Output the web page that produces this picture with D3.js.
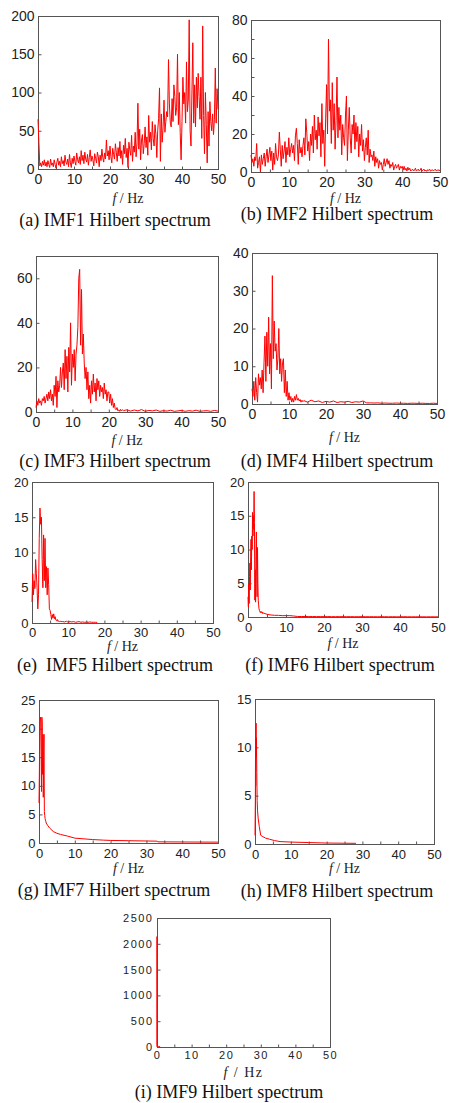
<!DOCTYPE html>
<html><head><meta charset="utf-8">
<script src="https://cdn.jsdelivr.net/npm/d3@7"></script>
<style>body{margin:0;background:#fff}svg{display:block}</style></head>
<body><svg id="chart" width="449" height="1103"></svg>
<script>
// ---------- tick labels / categories ----------
const xTickValues = [0, 5, 10, 15, 20, 25, 30, 35, 40, 45, 50];
const captionTexts = ["(a) IMF1 Hilbert spectrum", "(b) IMF2 Hilbert spectrum", "(c) IMF3 Hilbert spectrum",
  "(d) IMF4 Hilbert spectrum", "(e)  IMF5 Hilbert spectrum", "(f) IMF6 Hilbert spectrum",
  "(g) IMF7 Hilbert spectrum", "(h) IMF8 Hilbert spectrum", "(i) IMF9 Hilbert spectrum"];
const yMaxes = [200, 80, 70, 40, 20, 20, 25, 15, 2500];
const yTickLists = [[0,50,100,150,200],[0,10,20,30,40,50,60,70,80],[0,20,40,60],[0,10,20,30,40],
  [0,5,10,15,20],[0,5,10,15,20],[0,5,10,15,20,25],[0,5,10,15],[0,500,1000,1500,2000,2500]];
const yLabelSteps = [50, 20, 20, 10, 5, 5, 5, 5, 500];

// ---------- series values ----------
const imf1Amp = [
  65,35,4,8,3,10,5,12,4,9,3,11,6,2,13,5,
  8,3,12,6,1,9,14,5,10,3,16,7,11,4,18,9,
  6,13,3,19,8,2,14,7,17,10,5,21,12,8,16,6,
  24,11,18,7,22,13,9,19,5,15,25,10,17,12,4,20,
  14,8,22,16,3,18,11,26,15,9,21,13,38,17,24,12,
  30,16,8,27,19,13,33,22,10,28,17,36,14,24,6,31,
  20,40,15,27,2,35,25,18,44,10,30,22,48,16,34,86,
  26,52,12,38,45,20,33,55,28,42,18,70,35,48,25,62,
  40,30,58,45,15,50,66,106,10,72,35,55,90,48,62,75,
  68,143,85,60,55,92,62,110,95,70,80,150,58,100,48,12,
  62,120,85,100,60,140,75,90,195,50,30,98,165,60,110,55,
  120,80,125,95,65,120,40,187,70,20,100,58,8,75,30,88,
  62,50,72,45,65,132,60,105,78];
const imf2Amp = [
  9,5,7,3,8,6,15,2,5,8,0,9,4,7,10,3,
  8,12,5,9,13,6,11,1,10,4,15,8,6,9,21,12,
  3,14,7,11,16,5,13,9,18,8,12,15,10,14,6,19,
  23,15,4,17,10,13,8,14,18,9,28,21,11,16,6,20,
  14,24,10,30,17,22,12,29,19,26,8,36,15,22,3,28,
  46,20,70,32,38,15,47,22,36,12,27,50,18,34,22,30,
  9,25,18,14,30,40,6,22,34,18,10,25,20,30,12,26,
  16,24,8,20,14,25,11,17,6,13,18,9,22,5,12,8,
  9,6,11,3,8,5,7,2,6,4,5,1,4,7,3,5,
  7,4,6,2,4,3,5,1,3,4,2,3,4,1,3,2,
  3,1,3,1,2,0.5,2.5,1,2,0.5,1,1.5,0.5,1,2,0.5,
  1,1.5,0.5,1,2,0.5,1,1.5,0.5,1,0.3,1.2,0.8,1.5,0.4,1,
  1.2,0.5,1,1.5,0.6,1,0.8,1.2,0.5];
const imf3Amp = [
  2,5,3,6,4,5,3,6,5,7,4,6,8,5,9,6,
  10,5,8,3,12,7,16,2,14,9,12,20,11,18,22,10,
  28,15,25,9,29,18,40,12,26,20,28,14,26,30,38,60,
  64,30,55,26,35,22,15,20,10,18,6,12,4,14,8,17,
  9,13,5,15,10,14,7,12,9,11,6,13,8,10,5,9,
  9,4,8,3,6,2,4,1.5,1,2,0.5,1,0.3,1.2,0.5,1];
const imf3Tail = [0.6,1,0.4,0.9,0.5,1.1,0.3,0.7,0.5,0.9,0.3,0.6,0.4,0.8,0.3,0.5,0.7,0.3,0.6,0.4,0.8,0.3,0.5,0.6,0.3,0.7,0.4];
const imf4Amp = [
  4,2,6,1,7,3,0.5,8,5,7,4,9,3,11,18,6,
  19,10,23,8,16,4,34,12,22,14,16,9,12,20,8,12,
  6,11,12,3,9,2,6,1,3,1,2,0.5,1.5,0.5,2,1,
  2.5,1,1.5,0.8,1.2,0.5,1,0.6];
const imf4Tail = [0.9,0.5,1,0.6,0.8,0.4,0.7,0.5,0.8,0.4,0.6,0.5,0.7,0.4,0.6,0.5,0.8,0.3,
  0.3,0.25,0.3,0.2,0.25,0.2,0.2,0.25,0.2,0.2,0.15,0.2,0.2,0.15,0.2,0.15,0.15,0.2,0.15];
const imf5Amp = [3,7,4,6,5,9,7,5,2,4,12,16.3,14,15,9,5,12.5,6,12,5,8,4,7.8,5.5,2,1.8,1.2,0.5,1.2,0.7,
  1.3,0.6,0.9,0.4,0.3,0.5,0.2,0.3,0.2,0.25,0.2];
const imf5Tail = [0.2,0.15,0.25,0.1,0.2,0.15,0.2,0.1,0.15,0.2,0.1,0.15,0.1,0.12,0.1,0.15,0.1,0.1,0.1,0.08];
const imf6Amp = [3,1.5,5,2,6,8,4,9,11.5,7,12,10,15.5,12,15,13,18.6,14,2.5,7,2.2,9,12.6,6,3,10.3,5,2.5,
  1.8,1.2,1,0.8,0.7,0.8,0.6,0.7,0.8,0.6,0.7,0.5,0.6];
const imf6Tail = [0.4,0.3,0.25,0.25,0.2,0.2,0.2,0.15,
  0.08,0.07,0.08,0.06,0.07,0.06,0.06,0.05,0.06,0.05,0.05,0.05,0.05,0.04,0.05,0.04,0.04,0.05,0.04,0.04,
  0.04,0.03,0.04,0.04,0.03,0.04,0.03,0.03,0.04,0.03,0.03,0.03,0.03,0.03,0.02,0.03,0.03,0.02];
const imf7Amp = [7,12,18,21,22,21.5,15,9,22,21,12,19,8,15,19,5.5,4.8,4.3,4,3.8,3.5];
const imf7TailFreq = [2.5,3,4,5,6,8,10,12,15,18,20,25,30,33,33.2,40,50];
const imf7TailAmp = [3,2.6,2,1.7,1.5,1.2,0.85,0.75,0.6,0.5,0.45,0.4,0.35,0.32,0.2,0.18,0.15];
const imf8Freq = [0,0.1,0.15,0.2,0.25,0.3,0.35,0.4,0.5,0.6,0.7,0.9,1.2,1.6,2,3,4,5.5,7,10,15,20,25,28.2];
const imf8Amp = [0.9,4.5,10,6,10.5,12.5,9,11,7.4,4.5,3.5,2.6,1.8,0.9,0.8,0.6,0.5,0.35,0.25,0.2,0.15,0.1,0.08,0.07];
const imf9Freq = [0,0,0.04,0.4,0.9];
const imf9Amp = [0,2140,30,12,5];

function seg(values, start, step) { return values.map((v, i) => ({f: start + i * step, v})); }
function pairs(freqs, values) { return freqs.map((f, i) => ({f, v: values[i]})); }

const series = [
  seg(imf1Amp, 0, 0.25),
  seg(imf2Amp, 0, 0.25),
  seg(imf3Amp, 0, 0.25).concat(seg(imf3Tail, 24, 1)),
  seg(imf4Amp, 0, 0.25).concat(seg(imf4Tail, 14, 1)),
  seg(imf5Amp, 0, 0.2).concat(seg(imf5Tail, 8.5, 0.5)),
  seg(imf6Amp, 0, 0.1).concat(seg(imf6Tail, 5, 1)),
  seg(imf7Amp, 0, 0.1).concat(pairs(imf7TailFreq, imf7TailAmp)),
  pairs(imf8Freq, imf8Amp),
  pairs(imf9Freq, imf9Amp)
];

// ---------- layout ----------
const layout = [
  {l:38, t:16, r:218, b:169, cap:[115,220], xl:198, fs:14, pad:5},
  {l:251, t:20, r:440, b:172, cap:[337,214], xl:198, fs:14, pad:5},
  {l:36, t:256, r:218, b:412, cap:[115,461], xl:440, fs:14, pad:5},
  {l:252, t:253, r:437, b:404, cap:[337,461], xl:437, fs:14, pad:5},
  {l:32, t:482, r:213, b:623, cap:[115,665], xl:646, fs:13, pad:4},
  {l:248, t:482, r:438, b:617, cap:[340,665], xl:643, fs:13, pad:5},
  {l:39, t:700, r:218, b:843, cap:[114,890], xl:868, fs:13, pad:5},
  {l:255, t:699, r:434, b:844, cap:[337,891], xl:868, fs:13, pad:5},
  {l:157, t:918, r:330, b:1047, cap:[229,1092], xl:1072, fs:11, pad:4}
];

const svg = d3.select("#chart");

layout.forEach((p, k) => {
  const small = k === 8;
  const x = d3.scaleLinear().domain([0, 50]).range([p.l, p.r]);
  const y = d3.scaleLinear().domain([0, yMaxes[k]]).range([p.b, p.t]);
  const g = svg.append("g");
  const fs = p.fs;
  const ls = small ? "1.5px" : "0px";

  // frame
  g.append("rect").attr("x", p.l + 0.5).attr("y", p.t + 0.5)
    .attr("width", p.r - p.l).attr("height", p.b - p.t)
    .attr("fill", "none").attr("stroke", "#555").attr("stroke-width", 1);

  // y axis
  const ya = g.append("g").attr("transform", `translate(${p.l + 0.5},0)`)
    .call(d3.axisLeft(y).tickValues(yTickLists[k]).tickSize(-3).tickPadding(4)
      .tickFormat(d => d % yLabelSteps[k] === 0 ? d : ""));
  ya.select(".domain").remove();
  ya.selectAll("line").attr("stroke", "#555");
  ya.selectAll("text").attr("font-family", "'Liberation Sans', Arial, sans-serif")
    .attr("font-size", fs).attr("fill", "#222").style("letter-spacing", ls);

  // x axis
  const xa = g.append("g").attr("transform", `translate(0,${p.b + 0.5})`)
    .call(d3.axisBottom(x).tickValues(xTickValues).tickSize(-3).tickPadding(p.pad)
      .tickFormat(d => d % 10 === 0 ? d : ""));
  xa.select(".domain").remove();
  xa.selectAll("line").attr("stroke", "#555");
  xa.selectAll("text").attr("font-family", "'Liberation Sans', Arial, sans-serif")
    .attr("font-size", fs).attr("fill", "#222").style("letter-spacing", ls);

  // spectrum line
  const line = d3.line().x(d => x(d.f)).y(d => y(d.v));
  g.append("path").datum(series[k]).attr("d", line)
    .attr("fill", "none").attr("stroke", "#ff0000").attr("stroke-width", 1)
    .attr("stroke-linejoin", "round");

  // axis label
  const t = g.append("text").attr("x", (p.l + p.r) / 2).attr("y", p.xl)
    .attr("text-anchor", "middle").attr("dominant-baseline", "central")
    .attr("font-family", "'Liberation Serif', 'Times New Roman', serif")
    .attr("font-size", 14).attr("fill", "#222")
    .style("letter-spacing", small ? "1.5px" : "0px");
  t.append("tspan").attr("font-style", "italic").text("f");
  t.append("tspan").text(" / Hz");

  // caption
  g.append("text").attr("x", p.cap[0]).attr("y", p.cap[1])
    .attr("text-anchor", "middle").attr("dominant-baseline", "central")
    .attr("font-family", "'Liberation Serif', 'Times New Roman', serif")
    .attr("font-size", 18).attr("fill", "#111")
    .style("white-space", "pre")
    .text(captionTexts[k]);
});
</script>
</body></html>
